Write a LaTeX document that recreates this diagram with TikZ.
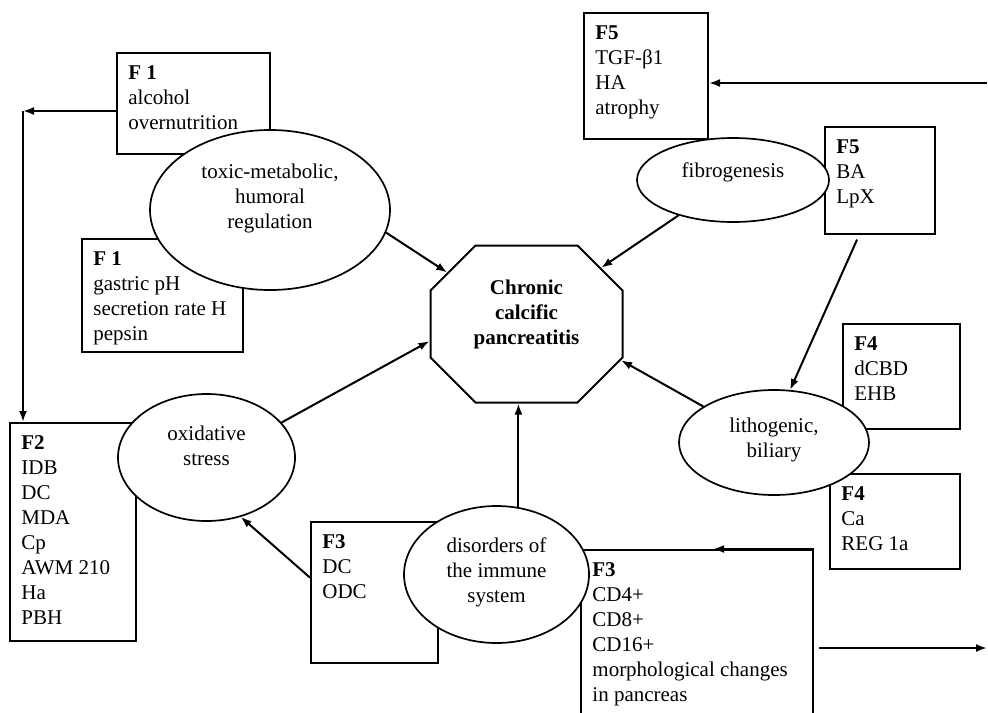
\documentclass[tikz,border=0pt]{standalone}
\usepackage{fontspec}
\setmainfont{Liberation Serif}
\usetikzlibrary{arrows.meta,shapes.geometric,shapes.misc,positioning}
\newcommand{\fsize}{\fontsize{10.5}{12.5}\selectfont}

\tikzset{
  factor/.style={draw, rectangle, anchor=north west, line width=1pt, inner sep=0pt},
  flist/.style={anchor=north west, align=left, inner xsep=6pt, inner ysep=6.5pt, font=\fsize},
  oval/.style={draw, ellipse, fill=white, line width=0.85pt, inner sep=0pt},
  otext/.style={align=center, font=\fsize, inner sep=0pt},
  arr/.style={-{Latex[length=5.5pt,width=4pt]}, line width=1pt},
}

\begin{document}
\begin{tikzpicture}[x=0.5pt,y=-0.5pt]
	\clip (0,0) rectangle (988,712);
	% factor boxes
	\node[factor, minimum width=76.5pt, minimum height=50.5pt, label={[flist]north west:{\textbf{F 1}\\alcohol\\overnutrition}}] (f1a) at (116,52) {};
	\node[factor, minimum width=80.5pt, minimum height=56.5pt, label={[flist]north west:{\textbf{F 1}\\gastric pH\\secretion rate H\\pepsin}}] (f1b) at (81,238) {};
	\node[factor, minimum width=63pt, minimum height=109pt, label={[flist]north west:{\textbf{F2}\\IDB\\DC\\MDA\\Cp\\AWM 210\\Ha\\PBH}}] (f2) at (9,422) {};
	\node[factor, minimum width=63.5pt, minimum height=70.5pt, label={[flist]north west:{\textbf{F3}\\DC\\ODC}}] (f3a) at (310,521) {};
	\node[factor, minimum width=116pt, minimum height=90.5pt, label={[flist]north west:{\textbf{F3}\\CD4+\\CD8+\\CD16+\\morphological changes\\in pancreas}}] (f3b) at (580,549) {};
	\node[factor, minimum width=58.5pt, minimum height=52.5pt, label={[flist]north west:{\textbf{F4}\\dCBD\\EHB}}] (f4a) at (842,323) {};
	\node[factor, minimum width=65pt, minimum height=47.5pt, label={[flist]north west:{\textbf{F4}\\Ca\\REG 1a}}] (f4b) at (829,473) {};
	\node[factor, minimum width=62pt, minimum height=63pt, label={[flist]north west:{\textbf{F5}\\TGF-β1\\HA\\atrophy}}] (f5a) at (583,12) {};
	\node[factor, minimum width=55pt, minimum height=53.5pt, label={[flist]north west:{\textbf{F5}\\BA\\LpX}}] (f5b) at (824,126) {};

	% mechanisms
	\node[oval, minimum width=120pt, minimum height=80pt] (toxic) at (270,210) {};
	\node[otext] (toxictxt) at ([yshift=6pt]toxic.center) {toxic-metabolic,\\humoral\\regulation};
	\node[oval, minimum width=96pt, minimum height=42pt] (fibro) at (733,180) {};
	\node[otext] (fibrotxt) at ([yshift=4pt]fibro.center) {fibrogenesis};
	\node[oval, minimum width=88.5pt, minimum height=63.5pt] (oxid) at (206.5,457.5) {};
	\node[otext] (oxidtxt) at ([yshift=6pt]oxid.center) {oxidative\\stress};
	\node[oval, minimum width=95pt, minimum height=52.5pt] (litho) at (774,442.5) {};
	\node[otext] (lithotxt) at ([yshift=1.25pt]litho.center) {lithogenic,\\biliary};
	\node[oval, minimum width=92.5pt, minimum height=68.5pt] (immune) at (496.5,574.5) {};
	\node[otext] (immunetxt) at ([yshift=1.25pt]immune.center) {disorders of\\the immune\\system};

	% disease
	\node[draw, chamfered rectangle, chamfered rectangle xsep=11.25pt, chamfered rectangle ysep=11.25pt,
	      text width=73.5pt, text height=28pt, text depth=28pt, inner sep=0pt, fill=white, line width=1pt] (ccp) at (526.5,324) {};
	\node[otext, font=\fsize\bfseries] (ccptxt) at ([yshift=5pt]ccp.center) {Chronic\\calcific\\pancreatitis};

	% connectors
	\coordinate (turn) at (23,111);
	\coordinate (rin) at (987,83);
	\coordinate (rout) at (987,648);
	\draw[arr] (f1a.west |- turn) -- (turn);
	\draw[arr] (turn) -- (turn |- f2.north);
	\draw[arr] (rin) -- (rin -| f5a.east);
	\draw[arr] (toxic.-11) -- (ccp.147);
	\draw[arr] (oxid.25) -- (ccp.190.6);
	\draw[arr] (fibro.213.5) -- (ccp.37);
	\draw[arr] (litho.153.4) -- (ccp.-21.2);
	\draw[arr] (immune.72.6) -- (immune.72.6 |- ccp.south);
	\draw[arr] (f3a.167) -- (oxid.-60.5);
	\draw[arr, shorten <=2.5pt] (f5b.-111.5) -- (litho.73.3);
	\draw[arr] (f3b.north east) -- ([xshift=8pt]f3b.north);
	\draw[arr, shorten <=2.5pt] (f3b.east |- rout) -- (rout);
\end{tikzpicture}
\end{document}
